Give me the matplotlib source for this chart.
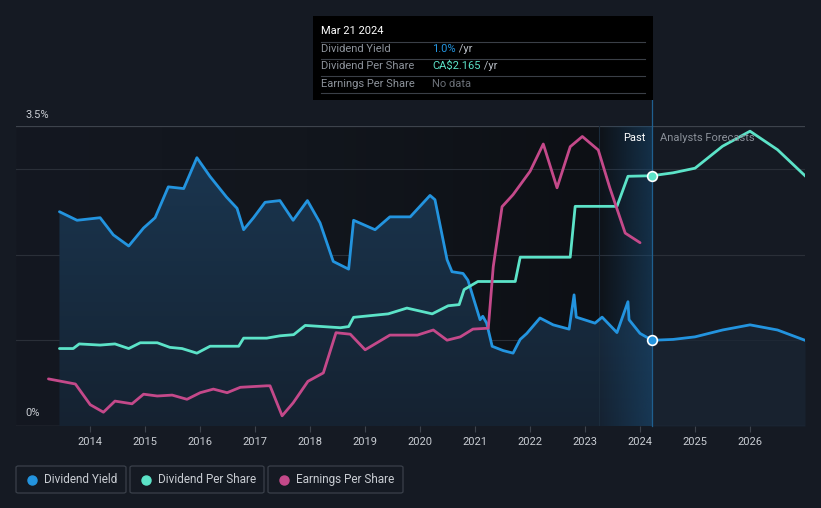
import numpy as np
import matplotlib
matplotlib.use("Agg")
import matplotlib.pyplot as plt
from matplotlib.patches import Rectangle, FancyBboxPatch, Polygon
from matplotlib.colors import LinearSegmentedColormap, to_rgba

plt.rcParams['font.family'] = ['Roboto', 'DejaVu Sans']

# ---------------- data ----------------
yield_years = [2013.44, 2013.76, 2014.18, 2014.42, 2014.70, 2014.97, 2015.18, 2015.42, 2015.70, 2015.94,
               2016.18, 2016.48, 2016.67, 2016.79, 2016.97, 2017.18, 2017.45, 2017.69, 2017.95, 2018.18,
               2018.42, 2018.70, 2018.79, 2019.18, 2019.45, 2019.82, 2020.18, 2020.27, 2020.49, 2020.58,
               2020.78, 2020.87, 2021.09, 2021.14, 2021.21, 2021.31, 2021.51, 2021.69, 2021.82, 2021.94,
               2022.18, 2022.42, 2022.71, 2022.80, 2022.84, 2023.18, 2023.31, 2023.58, 2023.78, 2023.80,
               2024.0, 2024.22]
yield_vals = [2.50, 2.40, 2.43, 2.23, 2.10, 2.31, 2.43, 2.79, 2.77, 3.13,
              2.91, 2.67, 2.54, 2.29, 2.43, 2.61, 2.63, 2.40, 2.63, 2.37,
              1.92, 1.83, 2.40, 2.29, 2.44, 2.44, 2.69, 2.64, 1.94, 1.80,
              1.78, 1.70, 1.24, 1.28, 1.20, 0.93, 0.88, 0.85, 1.01, 1.08,
              1.26, 1.18, 1.13, 1.53, 1.27, 1.20, 1.27, 1.09, 1.45, 1.24,
              1.08, 1.00]
yield_fc_years = [2024.22, 2024.6, 2025.0, 2025.5, 2026.0, 2026.5, 2027.0]
yield_fc_vals = [1.00, 1.01, 1.04, 1.12, 1.18, 1.12, 1.00]

dps_years = [2013.44, 2013.69, 2013.80, 2014.18, 2014.45, 2014.70, 2014.91, 2015.22, 2015.45, 2015.67,
             2015.94, 2016.18, 2016.42, 2016.70, 2016.79, 2017.03, 2017.21, 2017.45, 2017.70, 2017.91,
             2018.55, 2018.70, 2018.79, 2019.42, 2019.76, 2020.22, 2020.51, 2020.71, 2020.80, 2021.05,
             2021.73, 2021.82, 2022.73, 2022.82, 2023.58, 2023.78, 2024.22]
dps_vals = [0.67, 0.67, 0.71, 0.70, 0.71, 0.67, 0.72, 0.72, 0.68, 0.67,
            0.63, 0.69, 0.69, 0.69, 0.76, 0.76, 0.76, 0.78, 0.79, 0.87,
            0.85, 0.86, 0.94, 0.97, 1.02, 0.97, 1.04, 1.05, 1.18, 1.25,
            1.25, 1.46, 1.46, 1.90, 1.90, 2.16, 2.165]
dps_fc_years = [2024.22, 2024.6, 2025.0, 2025.5, 2026.0, 2026.5, 2027.0]
dps_fc_vals = [2.165, 2.19, 2.23, 2.42, 2.55, 2.39, 2.165]

eps_years = [2013.24, 2013.73, 2014.0, 2014.24, 2014.45, 2014.76, 2014.97, 2015.22, 2015.49, 2015.76,
             2016.0, 2016.24, 2016.49, 2016.73, 2017.21, 2017.27, 2017.49, 2017.69, 2017.96, 2018.24,
             2018.47, 2018.73, 2019.0, 2019.45, 2019.95, 2020.24, 2020.49, 2020.73, 2020.96, 2021.24,
             2021.33, 2021.49, 2021.69, 2022.0, 2022.24, 2022.49, 2022.73, 2022.95, 2023.24,
             2023.45, 2023.73, 2024.0]
eps_vals = [1.57, 1.40, 0.71, 0.46, 0.83, 0.74, 1.06, 1.00, 1.03, 0.89,
            1.11, 1.23, 1.11, 1.29, 1.34, 1.34, 0.34, 0.77, 1.49, 1.77,
            3.11, 3.06, 2.54, 3.03, 3.03, 3.20, 2.86, 2.97, 3.23, 3.26,
            5.31, 7.31, 7.71, 8.49, 9.40, 7.94, 9.31, 9.65, 9.20,
            7.94, 6.43, 6.11]

year_ticks = list(range(2014, 2027))
now = 2024.22
past_band_start = 2023.25

# ---------------- style ----------------
BG = '#151a23'
C_Y = '#2394df'
C_D = '#5ce3c8'
C_E = '#c4498a'
W, H = 821, 508
XMIN, XMAX = 2012.65, 2027.0

fig = plt.figure(figsize=(W / 100, H / 100), dpi=100, facecolor=BG)
ax = fig.add_axes([16 / W, (H - 426) / H, (805 - 16) / W, 300 / H])
ax.set_facecolor(BG)
ax.set_xlim(XMIN, XMAX)
ax.set_ylim(0, 3.5)
ax2 = ax.twinx()
ax2.set_ylim(0, 3.5 * 2.165 / 2.92)
ax3 = ax.twinx()
ax3.set_ylim(0, 10)
for a in (ax, ax2, ax3):
    for s in a.spines.values():
        s.set_visible(False)
    a.set_yticks([])
ax2.set_zorder(ax.get_zorder() + 1)
ax3.set_zorder(ax.get_zorder() + 2)
ax2.patch.set_visible(False)
ax3.patch.set_visible(False)

# past background horizontal gradient
grad = np.linspace(0, 1, 256).reshape(1, -1)
cm_bg = LinearSegmentedColormap.from_list('bg', ['#141821', '#12161d', '#0d1015'])
ax.imshow(grad, extent=[XMIN, past_band_start, 0, 3.5], aspect='auto', cmap=cm_bg,
          zorder=0, origin='lower')
ax.imshow(np.zeros((1, 2)), extent=[past_band_start, now, 0, 3.5], aspect='auto',
          cmap=LinearSegmentedColormap.from_list('b2', ['#0e1218', '#0e1218']), zorder=0)

# gridlines
for gy in [1, 2, 3]:
    ax.axhline(gy, color='#2a2f38', lw=0.8, zorder=1)
ax.axhline(3.5, color='#3d434c', lw=0.9, zorder=1)
ax.axhline(0, color='#3d434c', lw=1.0, zorder=1)

# yield fill (past) gradient
xs = np.array(yield_years)
ys = np.array(yield_vals)
poly = np.column_stack([np.r_[xs, xs[-1], xs[0]], np.r_[ys, 0, 0]])
patch = Polygon(poly, closed=True, facecolor='none', edgecolor='none')
ax.add_patch(patch)
vgrad = np.linspace(0, 1, 256).reshape(-1, 1)
cm_fill = LinearSegmentedColormap.from_list('fill', ['#152231', '#1a3650'])
im = ax.imshow(vgrad, extent=[xs[0], xs[-1], 0, 3.2], aspect='auto', cmap=cm_fill,
               origin='lower', zorder=2)
im.set_clip_path(patch)
# forecast fill
ax.fill_between(yield_fc_years, yield_fc_vals, 0, color='#1a2635', alpha=0.7, lw=0, zorder=2)

# highlight band (last year of past)
band = np.linspace(0, 1, 256).reshape(1, -1)
cm_band = LinearSegmentedColormap.from_list('band', [to_rgba('#1a4a72', 0.0), to_rgba('#1a4a72', 0.55)])
ax.imshow(band, extent=[past_band_start, now, 0, 3.5], aspect='auto', cmap=cm_band,
          zorder=3, origin='lower')
ax.axvline(past_band_start, color='#1b2c3c', lw=0.8, zorder=3)
ax.plot([now, now], [0, 3.5], color='#1f5f8f', lw=0.9, zorder=3, clip_on=False)
fig.add_artist(plt.Line2D([652 / W, 652 / W], [(H - 126) / H, (H - 100) / H], color='#1f5f8f', lw=0.9))

# lines
lw = 2.0
ax.plot(yield_years, yield_vals, color=C_Y, lw=lw, zorder=5, solid_capstyle='round', solid_joinstyle='round')
ax.plot(yield_fc_years, yield_fc_vals, color=C_Y, lw=lw, zorder=5, solid_joinstyle='round')
ax2.plot(dps_years, dps_vals, color=C_D, lw=lw, zorder=5, solid_joinstyle='round', solid_capstyle='round')
ax2.plot(dps_fc_years, dps_fc_vals, color=C_D, lw=lw, zorder=5, solid_joinstyle='round')
ax3.plot(eps_years, eps_vals, color=C_E, lw=lw, zorder=5, solid_joinstyle='round', solid_capstyle='round')

ax.plot([now], [yield_vals[-1]], 'o', ms=7, mfc=C_Y, mec='white', mew=1.2, zorder=10)
ax2.plot([now], [dps_vals[-1]], 'o', ms=7, mfc=C_D, mec='white', mew=1.2, zorder=10)

# x ticks
ax.set_xticks(year_ticks)
ax.set_xticklabels([str(y) for y in year_ticks], color='#c9cdd3', fontsize=8)
ax.tick_params(axis='x', length=4, color='#3d434c', pad=4)

# y labels
fig.text(25 / W, (H - 115) / H, '3.5%', color='#c9cdd3', fontsize=8, va='center', ha='left')
fig.text(25 / W, (H - 413) / H, '0%', color='#c9cdd3', fontsize=8, va='center', ha='left')

# past / forecast labels
fig.text(645 / W, (H - 138) / H, 'Past', color='#ffffff', fontsize=8, va='center', ha='right')
fig.text(660 / W, (H - 138) / H, 'Analysts Forecasts', color='#8a9099', fontsize=8, va='center', ha='left')

# tooltip
fig.add_artist(Rectangle((313 / W, (H - 100) / H), 340 / W, 84 / H, transform=fig.transFigure,
                         facecolor='#000000', edgecolor='none', zorder=20))
fig.text(321 / W, (H - 31) / H, 'Mar 21 2024', color='white', fontsize=8, va='center', zorder=21)
for ly in [41.5, 58.5, 75.5, 93]:
    fig.add_artist(plt.Line2D([321 / W, 645 / W], [(H - ly) / H] * 2, color='#3a3f47', lw=0.8, zorder=21))
rows = [('Dividend Yield', '1.0%', C_Y, ' /yr', 49), ('Dividend Per Share', 'CA$2.165', C_D, ' /yr', 66),
        ('Earnings Per Share', 'No data', '#6b7078', '', 84)]
for lab, val, col, suf, yy in rows:
    fig.text(321 / W, (H - yy) / H, lab, color='#8d939b', fontsize=8, va='center', zorder=21)
    t = fig.text(432 / W, (H - yy) / H, val, color=col, fontsize=8, va='center', zorder=21)
    if suf:
        fig.canvas.draw()
        bb = t.get_window_extent()
        fig.text(bb.x1 / W, (H - yy) / H, suf, color='#b7bcc3', fontsize=8, va='center', zorder=21)

# legend
legend = [('Dividend Yield', C_Y, 16, 126), ('Dividend Per Share', C_D, 130, 264), ('Earnings Per Share', C_E, 268, 403)]
for lab, col, x0, x1 in legend:
    fig.add_artist(FancyBboxPatch((x0 / W, (H - 493) / H), (x1 - x0) / W, 27 / H,
                                  boxstyle='round,pad=0,rounding_size=0.003', transform=fig.transFigure,
                                  facecolor='none', edgecolor='#3a404a', lw=0.9))
    fig.add_artist(plt.Line2D([(x0 + 16) / W], [(H - 479.5) / H], marker='o', ms=6.5, color=col, mec=col))
    fig.text((x0 + 28) / W, (H - 479.5) / H, lab, color='#c9cdd3', fontsize=8.5, va='center', ha='left')

fig.savefig('out.png', dpi=100, facecolor=BG)
